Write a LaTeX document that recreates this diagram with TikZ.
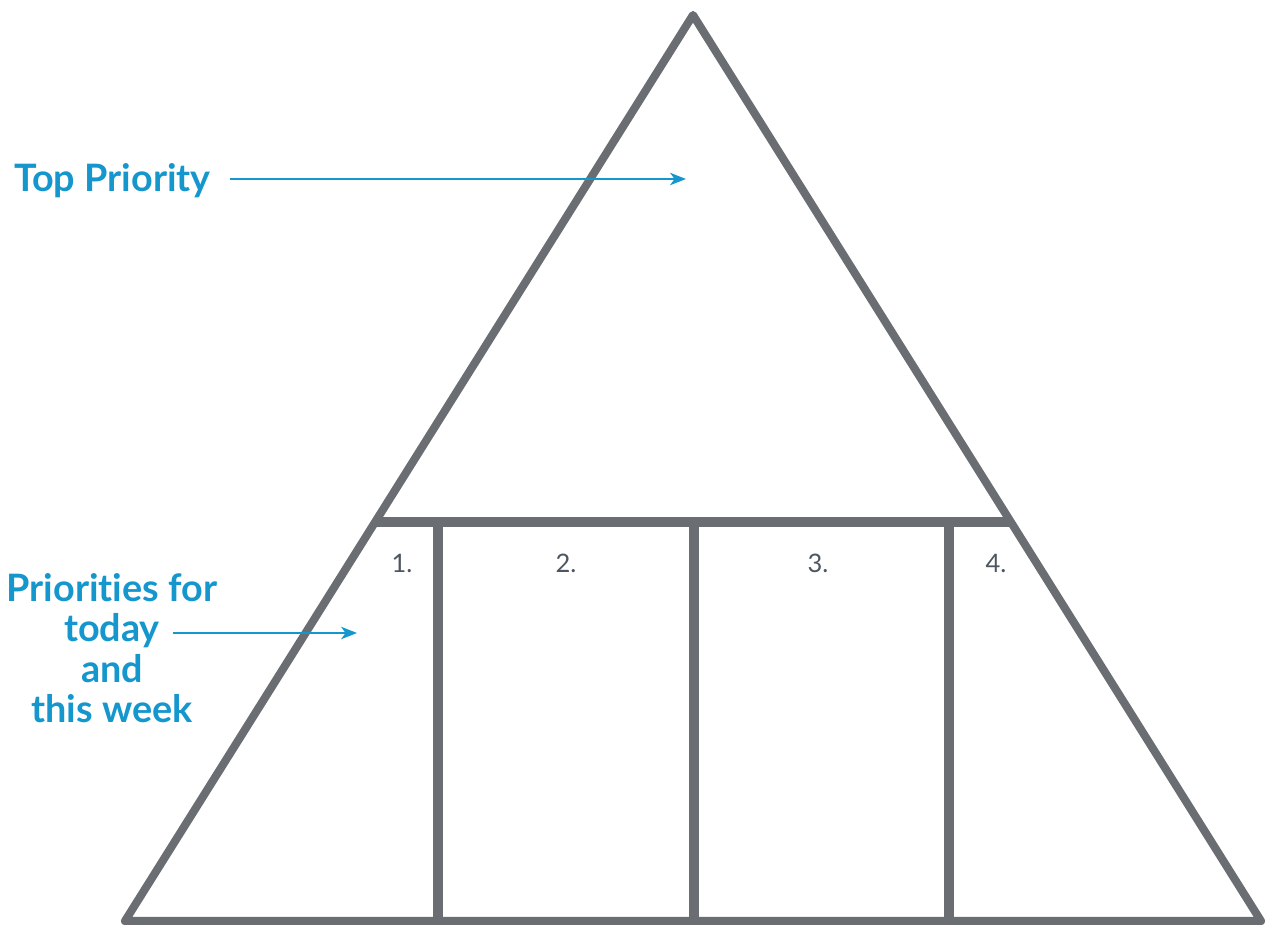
\documentclass[tikz,border=0pt]{standalone}
\usepackage{fontspec}
\setmainfont{Lato}[Ligatures=NoCommon]
\usetikzlibrary{arrows.meta,positioning}

\definecolor{frame}{HTML}{6A6E73}
\definecolor{callout}{HTML}{1597CE}
\definecolor{numtxt}{HTML}{4C5661}

\begin{document}
\begin{tikzpicture}[
    x=0.02cm, y=-0.02cm,
    wall/.style={draw=frame, line width=4.6pt, line join=round},
    divider/.style={draw=frame, line width=5.2pt},
    label text/.style={text=callout, font=\fontsize{21.5}{23}\selectfont\bfseries, inner sep=0pt},
    slot num/.style={text=numtxt, font=\fontsize{14.5}{16}\selectfont, inner sep=0pt},
    pointer/.style={draw=callout, line width=1.4pt, -{Stealth[length=9pt, width=7pt, inset=2.5pt]}}
  ]
  \useasboundingbox (0,0) rectangle (1269,924);

  % Triangle corners
  \coordinate (apex) at (693,15);
  \coordinate (bl) at (125,921);
  \coordinate (br) at (1261,921);
  \draw[wall] (apex) -- (br) -- (bl) -- cycle;

  % Shelf and columns
  \coordinate (shelfL) at (377,522);
  \coordinate (shelfR) at (1009,522);
  \draw[divider] (shelfL) -- (shelfR);
  \foreach \cx/\nm in {438/c1, 694/c2, 949/c3} {
    \coordinate (\nm top) at (\cx,522);
    \coordinate (\nm bot) at (\cx,920);
    \draw[divider] (\nm top) -- (\nm bot);
  }

  % Slot numbers
  \node[slot num] (n1) at (402,563) {1.};
  \node[slot num] (n2) at (566,563) {2.};
  \node[slot num] (n3) at (818,563) {3.};
  \node[slot num] (n4) at (996,563) {4.};

  % Callouts
  \node[label text, anchor=east] (toplbl) at (211,181) {Top Priority};
  \coordinate (topstart) at (230,179);
  \coordinate (toptip) at (686,179);
  \draw[pointer] (topstart) -- (toptip);

  \node[label text, align=center] (weeklbl) at (112,648)
    {Priorities for\\today\\and\\this week};
  \coordinate (weekstart) at (173,633);
  \coordinate (weektip) at (357,633);
  \draw[pointer] (weekstart) -- (weektip);

\end{tikzpicture}
\end{document}
